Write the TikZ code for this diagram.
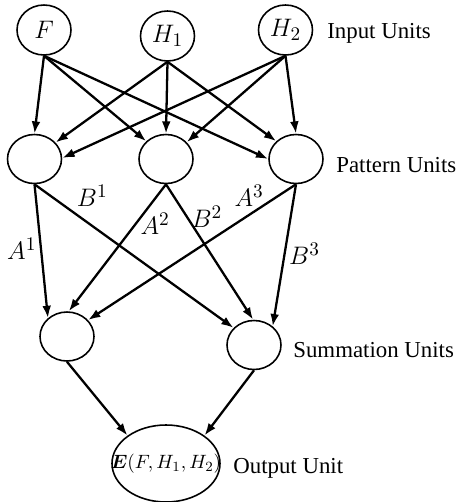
\documentclass[tikz,border=0pt]{standalone}
\usepackage{amsmath}
\usepackage{fontspec}
\setmainfont{Liberation Serif}
\usetikzlibrary{shapes.geometric, arrows.meta}

\begin{document}
\begin{tikzpicture}[
	font=\fontsize{13}{15}\selectfont,
	unit/.style={draw, ellipse, line width=0.9pt, inner sep=0pt, minimum width=1.08cm, minimum height=0.98cm, font=\fontsize{15}{17}\selectfont},
	layer/.style={anchor=west, inner sep=0pt},
	weight/.style={font=\fontsize{15}{17}\selectfont, inner sep=2pt},
	wire/.style={->, line width=1.3pt},
	>={Latex[length=7pt, width=5pt]}
	]
	\useasboundingbox (0, 0) rectangle (9.24, -10.04);

	\draw node[unit, minimum height=1cm] at (0.88, -0.60) (f) {$F$};
	\draw node[unit, minimum height=1cm] at (3.35, -0.72) (h1) {$H_1$};
	\draw node[unit, minimum height=1cm] at (5.71, -0.60) (h2) {$H_2$};
	\draw node[unit] at (0.69, -3.18) (p1) {};
	\draw node[unit] at (3.32, -3.18) (p2) {};
	\draw node[unit] at (5.92, -3.18) (p3) {};
	\draw node[unit] at (1.34, -6.73) (s1) {};
	\draw node[unit] at (5.08, -6.90) (s2) {};
	\draw node[unit, minimum width=2.16cm, minimum height=1.54cm, font=\fontsize{11}{13}\selectfont] at (3.32, -9.27) (out) {\makebox[1.4cm]{$\boldsymbol{E}(F,H_1,H_2)$}};

	\draw node[layer] at (6.54, -0.66) (inlab) {Input Units};
	\draw node[layer] at (6.72, -3.30) (patlab) {Pattern Units};
	\draw node[layer] at (5.86, -7.00) (sumlab) {Summation Units};
	\draw node[layer] at (4.66, -9.36) (outlab) {Output Unit};

	% input -> pattern
	\draw [wire] (f.south) -- (p1.90);
	\draw [wire] (f.south) -- (p2.138);
	\draw [wire] (f.south) -- (p3.180);
	\draw [wire] (h1.south) -- (p1.38);
	\draw [wire] (h1.south) -- (p2.90);
	\draw [wire] (h1.south) -- (p3.138);
	\draw [wire] (h2.south) -- (p1.2);
	\draw [wire] (h2.south) -- (p2.39);
	\draw [wire] (h2.south) -- (p3.90);

	% pattern -> summation
	\draw [wire] (p1.south) -- (s1.136) node[weight, pos=.48, left] {$A^1$};
	\draw [wire] (p1.south) -- (s2.140) node[weight, pos=.19, above right] {$B^1$};
	\draw [wire] (p2.south) -- (s1.86) node[weight, pos=.31, right] {$A^2$};
	\draw [wire] (p2.south) -- (s2.92) node[weight, pos=.24, right] {$B^2$};
	\draw [wire] (p3.south) -- (s1.38) node[weight, pos=.2, above, xshift=-3pt] {$A^3$};
	\draw [wire] (p3.south) -- (s2.45) node[weight, pos=.49, right] {$B^3$};

	% summation -> output
	\draw [wire] (s1.south) -- (out.144);
	\draw [wire] (s2.south) -- (out.36);
\end{tikzpicture}
\end{document}
